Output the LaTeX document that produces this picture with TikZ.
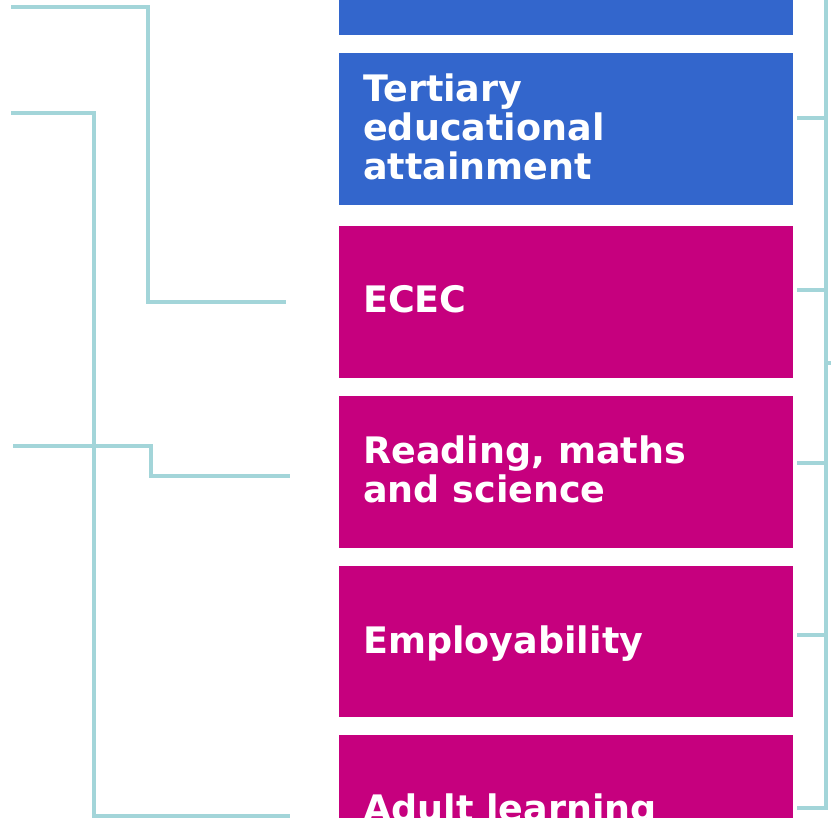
\documentclass[tikz,border=0pt]{standalone}
\usepackage{fontspec}
\setmainfont{DejaVu Sans}
\definecolor{boxblue}{RGB}{51,102,204}
\definecolor{boxmag}{RGB}{198,0,126}
\definecolor{linkteal}{RGB}{163,213,217}
\begin{document}
\begin{tikzpicture}[x=1pt,y=-1pt,
  box/.style={rectangle, draw=none, minimum width=454pt, minimum height=152pt, inner sep=0pt, anchor=north west},
  lbl/.style={text=white, font=\bfseries\fontsize{36.5}{39}\selectfont, align=left, anchor=base west, inner sep=0pt},
  link/.style={draw=linkteal, line width=4.2pt, line join=miter}]
\clip (0,0) rectangle (831,818);
\fill[white] (0,0) rectangle (831,818);
% boxes
\node[box, fill=boxblue] (b0) at (339,-117) {};
\node[box, fill=boxblue] (b1) at (339,53) {};
\node[box, fill=boxmag] (b2) at (339,226) {};
\node[box, fill=boxmag] (b3) at (339,396) {};
\node[box, fill=boxmag, minimum height=151pt] (b4) at (339,566) {};
\node[box, fill=boxmag] (b5) at (339,735) {};
% labels (base anchor = last line's baseline)
\node[lbl] (l1) at (363,180) {Tertiary\\educational\\attainment};
\node[lbl] (l2) at (363,313) {ECEC};
\node[lbl] (l3) at (363,503) {Reading, maths\\and science};
\node[lbl] (l4) at (363,653) {Employability};
\node[lbl] (l5) at (363,821) {Adult learning};
% left connector coordinates
\coordinate (sA) at (11,7);
\coordinate (eA) at (286,302);
\coordinate (sB) at (11,113);
\coordinate (eB) at (290,816);
\coordinate (sC) at (13,446);
\coordinate (eC) at (290,476);
\draw[link] (sA) -- (148,7) -- (148,302) -- (eA);
\draw[link] (sB) -- (94,113) -- (94,816) -- (eB);
\draw[link] (sC) -- (151,446) -- (151,476) -- (eC);
% right bracket
\coordinate (rt) at (826,-5);
\coordinate (rb) at (826,808);
\coordinate (t1) at (797,118);
\coordinate (t2) at (797,290);
\coordinate (t3) at (797,463);
\coordinate (t4) at (797,635);
\coordinate (t5) at (797,808);
\coordinate (stub) at (835,363);
\draw[link] (rt) -- (rb) -- (t5);
\draw[link] (t1) -- (826,118);
\draw[link] (t2) -- (826,290);
\draw[link] (t3) -- (826,463);
\draw[link] (t4) -- (826,635);
\draw[link] (826,363) -- (stub);
\end{tikzpicture}
\end{document}
